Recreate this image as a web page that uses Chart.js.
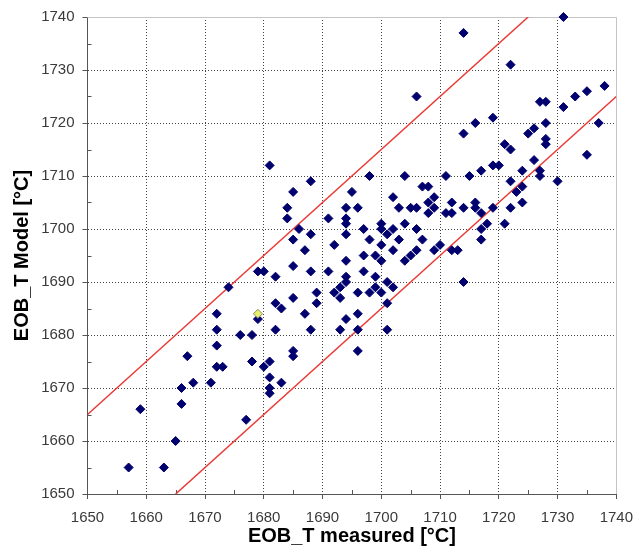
<!DOCTYPE html>
<html>
<head>
<meta charset="utf-8">
<script src="https://cdn.jsdelivr.net/npm/chart.js@4.4.1/dist/chart.umd.min.js"></script>
<style>
  html, body { margin: 0; padding: 0; background: #fff; }
  canvas { display: block; }
</style>
</head>
<body>
<canvas id="chart" width="643" height="556"></canvas>
<script>
// measured vs model end-of-blow temperature
const MEASURED = [
  1657, 1659, 1663, 1665, 1666, 1666, 1667, 1668, 1671, 1672, 1672, 1672, 1672, 1673, 1674,
  1676, 1677, 1678, 1678, 1679, 1679, 1680, 1680, 1681, 1681, 1681, 1681, 1682, 1682, 1682,
  1683, 1683, 1685, 1685, 1685, 1685, 1685, 1687, 1687, 1688, 1688, 1689, 1689, 1691, 1692,
  1692, 1693, 1693, 1693, 1694, 1694, 1694, 1694, 1681, 1688, 1685, 1684, 1684, 1686, 1688,
  1691, 1694, 1694, 1694, 1694, 1695, 1696, 1697, 1697, 1698, 1704, 1711, 1715, 1717, 1719,
  1720, 1721, 1722, 1722, 1723, 1724, 1724, 1722, 1707, 1708, 1702, 1709, 1708, 1703, 1705,
  1706, 1709, 1712, 1708, 1711, 1712, 1714, 1716, 1716, 1717, 1719, 1721, 1718, 1717, 1717,
  1700, 1700, 1704, 1706, 1702, 1701, 1698, 1703, 1707, 1700, 1706, 1702, 1709, 1710, 1712,
  1713, 1699, 1705, 1704, 1700, 1697, 1699, 1714, 1701, 1699, 1698, 1700, 1702, 1696, 1701,
  1696, 1696, 1701, 1696, 1714, 1731, 1722, 1706, 1738, 1735, 1733, 1731, 1727, 1728, 1728,
  1737, 1726, 1725, 1728, 1728, 1735, 1719, 1716, 1714, 1726, 1724, 1727, 1727, 1730
]
const MODEL = [
  1655, 1666, 1655, 1660, 1667, 1670, 1676, 1671, 1671, 1684, 1681, 1678, 1674, 1674, 1689,
  1680, 1664, 1680, 1675, 1683, 1692, 1692, 1674, 1675, 1672, 1670, 1669, 1691, 1686, 1681,
  1685, 1671, 1698, 1693, 1687, 1677, 1676, 1696, 1684, 1692, 1681, 1688, 1686, 1692, 1697,
  1688, 1689, 1687, 1681, 1694, 1691, 1690, 1683, 1712, 1709, 1707, 1704, 1702, 1700, 1699,
  1702, 1704, 1702, 1701, 1699, 1707, 1704, 1700, 1695, 1710, 1710, 1710, 1710, 1711, 1712,
  1712, 1716, 1715, 1709, 1707, 1708, 1705, 1704, 1708, 1708, 1706, 1706, 1705, 1704, 1704,
  1704, 1704, 1705, 1703, 1703, 1703, 1704, 1705, 1704, 1703, 1704, 1701, 1701, 1700, 1698,
  1701, 1700, 1701, 1700, 1700, 1699, 1698, 1698, 1698, 1697, 1696, 1696, 1696, 1697, 1696,
  1696, 1695, 1695, 1694, 1694, 1692, 1691, 1690, 1690, 1689, 1688, 1688, 1689, 1688, 1686,
  1684, 1681, 1681, 1677, 1737, 1740, 1731, 1725, 1727, 1726, 1725, 1723, 1724, 1724, 1720,
  1720, 1719, 1718, 1717, 1716, 1714, 1721, 1720, 1718, 1713, 1711, 1711, 1710, 1709
]
// the single highlighted (yellow) sample
const HIGHLIGHT_MEASURED = [1679]
const HIGHLIGHT_MODEL = [1684]

// +/- 15 °C band lines
const UPPER_X = [1650, 1725]
const UPPER_Y = [1665, 1740]
const LOWER_X = [1665, 1740]
const LOWER_Y = [1650, 1725]

const AXIS_MIN = 1650
const AXIS_MAX = 1740
const STEP = 10

const toPoints = (xs, ys) => xs.map((v, i) => ({x: v, y: ys[i]}))

const FONT = "Arial, 'Liberation Sans', sans-serif"

// light frame on top/right plus the small in-between ticks
const frameAndMinorTicks = {
    id: "frameAndMinorTicks",
    beforeDatasetsDraw(chart) {
        const {ctx, chartArea: a, scales: {x, y}} = chart
        ctx.save()
        ctx.lineWidth = 1
        ctx.strokeStyle = "#c4c4c4"
        ctx.beginPath()
        ctx.moveTo(a.left, Math.round(a.top) + 0.5)
        ctx.lineTo(Math.round(a.right) + 0.5, Math.round(a.top) + 0.5)
        ctx.lineTo(Math.round(a.right) + 0.5, a.bottom)
        ctx.stroke()

        ctx.strokeStyle = "#555"
        ctx.beginPath()
        for (let v = AXIS_MIN + STEP / 2; v < AXIS_MAX; v += STEP) {
            const px = Math.round(x.getPixelForValue(v)) + 0.5
            ctx.moveTo(px, a.bottom)
            ctx.lineTo(px, a.bottom - 4)
            const py = Math.round(y.getPixelForValue(v)) + 0.5
            ctx.moveTo(a.left, py)
            ctx.lineTo(a.left + 4, py)
        }
        ctx.stroke()
        ctx.restore()
    }
}

const gridColor = (c) => (c.tick && c.tick.value === AXIS_MAX ? "rgba(0,0,0,0)" : "#444")

const axis = (title, isX) => ({
    type: "linear",
    min: AXIS_MIN,
    max: AXIS_MAX,
    afterFit: (scale) => {
        if (isX) scale.height = 62
        else scale.width = 87.5
    },
    ticks: {
        stepSize: STEP,
        color: "#3a3a3a",
        padding: isX ? 10 : 8,
        font: {family: FONT, size: 15},
        callback: (v) => String(v)
    },
    grid: {
        color: gridColor,
        lineWidth: 1,
        tickLength: 5,
        tickColor: "#555"
    },
    border: {
        display: true,
        color: "#555",
        width: 1,
        dash: [1, 2]
    },
    title: {
        display: true,
        text: title,
        color: "#000",
        font: {family: FONT, size: 20, weight: "bold"},
        padding: isX ? {top: 0, bottom: 8} : {top: 10, bottom: 0}
    }
})

new Chart(document.getElementById("chart").getContext("2d"), {
    type: "scatter",
    data: {
        datasets: [
            {
                label: "highlight",
                data: toPoints(HIGHLIGHT_MEASURED, HIGHLIGHT_MODEL),
                pointStyle: "rectRot",
                pointRadius: 4.5,
                backgroundColor: "#e6ef6e",
                borderColor: "#8a8a60",
                borderWidth: 1,
                clip: false
            },
            {
                label: "EOB_T",
                data: toPoints(MEASURED, MODEL),
                pointStyle: "rectRot",
                pointRadius: 4.5,
                backgroundColor: "#00006e",
                borderColor: "#00006e",
                borderWidth: 1,
                clip: false
            },
            {
                label: "upper",
                data: toPoints(UPPER_X, UPPER_Y),
                showLine: true,
                pointRadius: 0,
                borderColor: "#ea3a36",
                borderWidth: 1.5
            },
            {
                label: "lower",
                data: toPoints(LOWER_X, LOWER_Y),
                showLine: true,
                pointRadius: 0,
                borderColor: "#ea3a36",
                borderWidth: 1.5
            }
        ]
    },
    options: {
        responsive: false,
        animation: false,
        layout: {padding: {top: 16, right: 17.5, left: 0, bottom: 0}},
        plugins: {
            legend: {display: false},
            tooltip: {enabled: false}
        },
        scales: {
            x: axis("EOB_T measured [°C]", true),
            y: axis("EOB_T Model [°C]", false)
        }
    },
    plugins: [frameAndMinorTicks]
})
</script>
</body>
</html>
